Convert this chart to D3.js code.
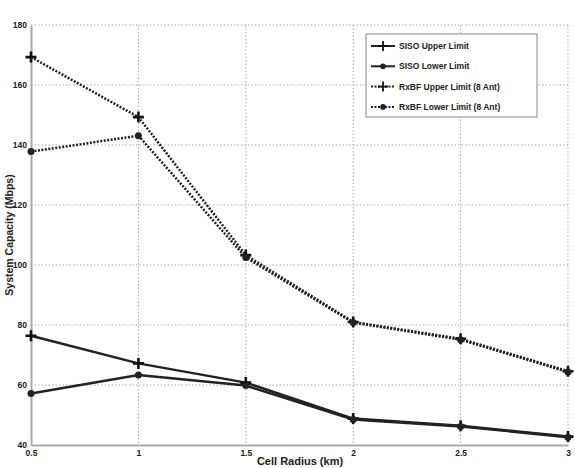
<!DOCTYPE html>
<html>
 <head>
  <meta charset="utf-8" />
  <title>System Capacity</title>
  <script src="https://cdn.jsdelivr.net/npm/d3@7"></script>
  <style>
    body { margin: 0; background: #fff; }
    text { font-family: "Liberation Sans", Arial, sans-serif; font-weight: bold; fill: #222; }
  </style>
 </head>
 <body>
  <script>
    var radius = [0.5, 1, 1.5, 2, 2.5, 3];
    var sisoUpper = [76.4, 67.2, 60.8, 48.8, 46.4, 42.8];
    var sisoLower = [57.2, 63.3, 59.8, 48.5, 46.2, 42.6];
    var rxbfUpper = [169.3, 149.3, 103.3, 81.0, 75.4, 64.6];
    var rxbfLower = [137.8, 143.1, 102.5, 80.8, 75.1, 64.3];
    var seriesNames = ["SISO Upper Limit", "SISO Lower Limit",
                       "RxBF Upper Limit (8 Ant)", "RxBF Lower Limit (8 Ant)"];
    var xTicks = [0.5, 1, 1.5, 2, 2.5, 3];
    var yTicks = [40, 60, 80, 100, 120, 140, 160, 180];

    var W = 575, H = 468,
        m = {left: 31, right: 7, top: 25, bottom: 23};

    var x = d3.scaleLinear().domain([0.5, 3]).range([m.left, W - m.right]),
        y = d3.scaleLinear().domain([40, 180]).range([H - m.bottom, m.top]);

    var svg = d3.select("body").append("svg")
        .attr("width", W).attr("height", H);

    // grid
    svg.append("g").selectAll("line").data(yTicks.slice(1)).enter().append("line")
        .attr("x1", m.left).attr("x2", W - m.right)
        .attr("y1", function(d) { return y(d); }).attr("y2", function(d) { return y(d); })
        .attr("stroke", "#aaa").attr("stroke-width", 1).attr("stroke-dasharray", "1.5,2");
    svg.append("g").selectAll("line").data(xTicks.slice(1)).enter().append("line")
        .attr("y1", m.top).attr("y2", H - m.bottom)
        .attr("x1", function(d) { return x(d); }).attr("x2", function(d) { return x(d); })
        .attr("stroke", "#aaa").attr("stroke-width", 1).attr("stroke-dasharray", "1.5,2");

    // axes
    var xAxis = svg.append("g").attr("transform", "translate(0," + (H - m.bottom) + ")")
        .call(d3.axisBottom(x).tickValues(xTicks).tickSize(0).tickPadding(5)
          .tickFormat(function(d) { return String(d); }));
    var yAxis = svg.append("g").attr("transform", "translate(" + m.left + ",0)")
        .call(d3.axisLeft(y).tickValues(yTicks).tickSize(0).tickPadding(4));
    [xAxis, yAxis].forEach(function(a) {
      a.select(".domain").attr("stroke", "#aaa").attr("stroke-width", 2);
      a.selectAll("text").attr("font-size", 8.5).attr("fill", "#333")
        .style("font-family", "'Liberation Sans', Arial, sans-serif").style("font-weight", "bold");
    });

    svg.append("text").attr("x", 300).attr("y", 465).attr("text-anchor", "middle")
        .attr("font-size", 11).text("Cell Radius (km)");
    svg.append("text").attr("transform", "translate(13,235) rotate(-90)")
        .attr("text-anchor", "middle").attr("font-size", 10.5).text("System Capacity (Mbps)");

    var series = [
      {name: seriesNames[0], values: sisoUpper, dash: null, marker: "plus"},
      {name: seriesNames[1], values: sisoLower, dash: null, marker: "circle"},
      {name: seriesNames[2], values: rxbfUpper, dash: "2,1.5", marker: "plus"},
      {name: seriesNames[3], values: rxbfLower, dash: "2,1.5", marker: "circle"}
    ];

    var line = d3.line()
        .x(function(d) { return x(d[0]); })
        .y(function(d) { return y(d[1]); });

    function drawMarker(g, kind, px, py) {
      if (kind === "plus") {
        g.append("path").attr("d", "M" + (px - 5.5) + "," + py + "H" + (px + 5.5) + "M" + px + "," + (py - 5.5) + "V" + (py + 5.5))
          .attr("stroke", "#111").attr("stroke-width", 2.6).attr("fill", "none");
      } else {
        g.append("circle").attr("cx", px).attr("cy", py).attr("r", 3.5).attr("fill", "#222");
      }
    }

    series.forEach(function(s) {
      var pts = radius.map(function(r, i) { return [r, s.values[i]]; });
      var g = svg.append("g");
      g.append("path").datum(pts).attr("d", line)
        .attr("fill", "none").attr("stroke", "#222").attr("stroke-width", 2.5)
        .attr("stroke-dasharray", s.dash);
      pts.forEach(function(p) { drawMarker(g, s.marker, x(p[0]), y(p[1])); });
    });

    // legend
    var lg = svg.append("g").attr("transform", "translate(366,34)");
    lg.append("rect").attr("width", 171).attr("height", 83)
      .attr("fill", "#fff").attr("stroke", "#888").attr("stroke-width", 1);
    series.forEach(function(s, i) {
      var ly = 12 + i * 20.3;
      lg.append("line").attr("x1", 5).attr("x2", 29).attr("y1", ly).attr("y2", ly)
        .attr("stroke", "#222").attr("stroke-width", 2).attr("stroke-dasharray", s.dash);
      if (s.marker === "plus") {
        lg.append("path").attr("d", "M12," + ly + "H22M17," + (ly - 5) + "V" + (ly + 5))
          .attr("stroke", "#111").attr("stroke-width", 1.8);
      } else {
        lg.append("circle").attr("cx", 17).attr("cy", ly).attr("r", 2.8).attr("fill", "#222");
      }
      lg.append("text").attr("x", 33).attr("y", ly + 3).attr("font-size", 8.5).text(s.name);
    });
  </script>
 </body>
</html>
